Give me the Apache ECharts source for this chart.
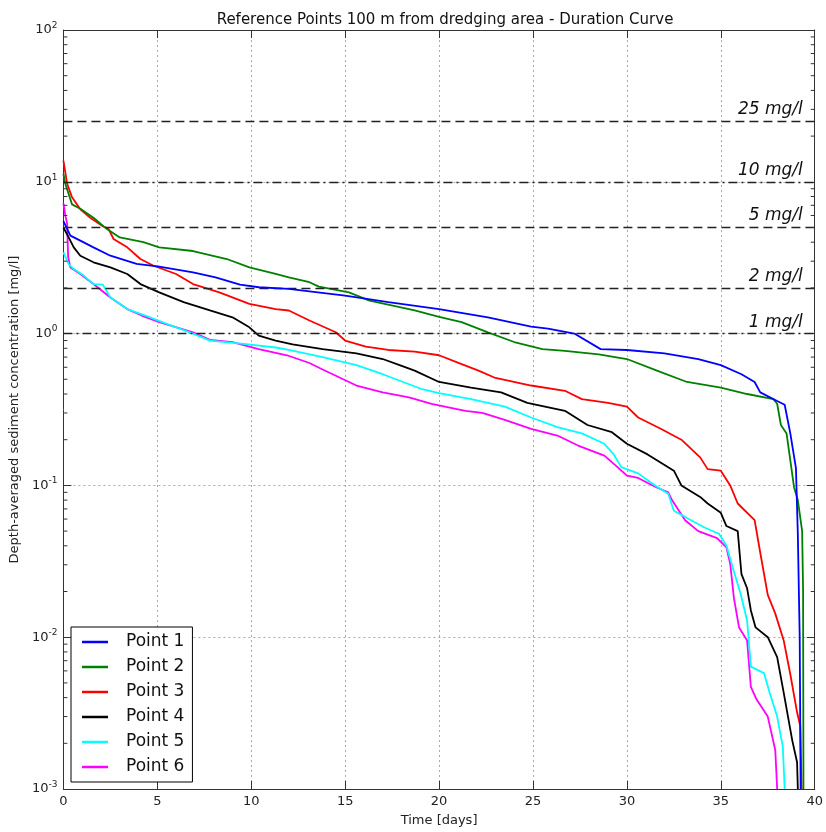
<!DOCTYPE html>
<html>
<head>
<meta charset="utf-8">
<script src="https://cdn.jsdelivr.net/npm/echarts@6/dist/echarts.min.js"></script>
<style>html,body{margin:0;padding:0;background:#fff}#c{width:826px;height:832px}</style>
</head>
<body>
<div id="c"></div>
<script>
// ---- data (time in days, concentration in mg/l) ----
const seriesNames = ['Point 1', 'Point 2', 'Point 3', 'Point 4', 'Point 5', 'Point 6'];
const p1 = [[0,5.5],[0.37,4.42],[0.9,4.1],[1.6,3.7],[2.5,3.26],[3.9,2.88],[5.1,2.76],[6.9,2.53],[8.1,2.35],[9.4,2.1],[10.4,2.02],[12,1.97],[13.1,1.9],[15,1.78],[17.3,1.61],[20,1.45],[22.6,1.28],[24.9,1.11],[25.8,1.08],[27.2,1.0],[28.6,0.79],[30,0.78],[32,0.74],[33.8,0.68],[35,0.62],[36.1,0.54],[36.8,0.48],[37.1,0.41],[38,0.36],[38.4,0.34],[38.7,0.22],[39.0,0.13],[39.1,0.048],[39.2,0.01],[39.25,0.001]];
const p2 = [[0,11.3],[0.1,9.7],[0.46,7.1],[0.9,6.65],[1.6,5.8],[2.3,4.9],[3.0,4.3],[4.26,4.0],[5.1,3.7],[6.9,3.5],[8.7,3.1],[9.9,2.73],[11.3,2.47],[12,2.35],[13.1,2.18],[13.6,2.04],[15.2,1.87],[16.3,1.65],[18.7,1.42],[20,1.29],[21.2,1.19],[22.6,1.02],[24,0.88],[25.5,0.79],[26.7,0.77],[28.5,0.73],[30,0.68],[31.6,0.57],[33.2,0.48],[35,0.44],[36.4,0.4],[37.8,0.37],[38,0.345],[38.2,0.25],[38.5,0.22],[38.9,0.097],[39.1,0.08],[39.33,0.05],[39.38,0.02],[39.4,0.001]];
const p3 = [[0,13.8],[0.2,9.7],[0.46,7.9],[0.9,6.6],[1.43,5.8],[2.1,5.1],[2.4,4.9],[2.67,4.2],[3.4,3.7],[4.1,3.1],[4.8,2.8],[6.0,2.47],[6.9,2.12],[8.3,1.87],[9.9,1.57],[11.3,1.45],[12,1.42],[13.1,1.22],[14.5,1.02],[15,0.9],[16.1,0.82],[17.3,0.78],[18.7,0.76],[20,0.72],[21.2,0.63],[22.1,0.57],[23,0.51],[24.9,0.455],[26.7,0.42],[27.6,0.37],[29,0.35],[30,0.33],[30.6,0.28],[31.8,0.236],[32.9,0.2],[33.9,0.153],[34.3,0.128],[35,0.125],[35.5,0.1],[35.9,0.076],[36.8,0.059],[37.1,0.036],[37.5,0.019],[37.9,0.0143],[38.35,0.0095],[38.7,0.0057],[39.06,0.0032],[39.23,0.0026],[39.3,0.001]];
const p4 = [[0,5.0],[0.28,4.3],[0.55,3.7],[0.9,3.26],[1.6,2.95],[2.5,2.73],[3.4,2.47],[4.1,2.12],[5.1,1.87],[6.4,1.61],[7.8,1.42],[9.0,1.28],[9.9,1.1],[10.4,0.97],[11.3,0.9],[12.2,0.85],[13.8,0.79],[15.6,0.74],[17,0.68],[17.9,0.62],[18.7,0.57],[20,0.48],[21.7,0.44],[23.3,0.41],[24.7,0.35],[26.7,0.31],[27.9,0.25],[29.2,0.224],[30,0.188],[31.1,0.16],[32.5,0.125],[32.9,0.1],[33.9,0.084],[34.3,0.076],[35,0.066],[35.3,0.054],[35.9,0.05],[36.1,0.026],[36.4,0.021],[36.6,0.015],[36.85,0.0116],[37.5,0.01],[38,0.0074],[38.35,0.0043],[38.8,0.0021],[39.06,0.0015],[39.1,0.001]];
const p5 = [[0,3.43],[0.28,2.87],[0.55,2.66],[1.08,2.41],[1.6,2.12],[2.1,2.1],[2.5,1.73],[3.4,1.45],[4.4,1.31],[5.5,1.16],[6.9,1.0],[7.8,0.9],[9.6,0.855],[11.3,0.81],[12,0.78],[13.8,0.7],[15.6,0.62],[17,0.54],[19.1,0.43],[20,0.405],[21.7,0.37],[23.5,0.33],[24.9,0.28],[26.3,0.242],[27.6,0.22],[28.8,0.188],[29.3,0.16],[29.7,0.132],[30.6,0.12],[31.5,0.1],[32.2,0.088],[32.5,0.068],[33.1,0.062],[34.1,0.053],[34.9,0.048],[35.3,0.04],[35.7,0.027],[36.05,0.0194],[36.4,0.0129],[36.6,0.0064],[37.3,0.0058],[37.6,0.0043],[38,0.003],[38.3,0.0019],[38.4,0.001]];
const p6 = [[0,7.2],[0.1,6.0],[0.2,5.3],[0.25,3.2],[0.37,2.73],[0.9,2.47],[1.6,2.12],[2.5,1.73],[3.4,1.45],[4.2,1.31],[5.1,1.19],[6.9,1.02],[7.8,0.91],[9.0,0.88],[10.4,0.79],[11.9,0.72],[13.1,0.64],[13.8,0.58],[15.6,0.455],[17,0.41],[18.4,0.38],[19.6,0.345],[21.4,0.31],[22.3,0.3],[23.5,0.27],[24.9,0.236],[26.3,0.213],[27.4,0.183],[28.8,0.157],[29.5,0.132],[30,0.116],[30.6,0.112],[31.5,0.098],[32.2,0.09],[32.4,0.08],[33.1,0.059],[33.8,0.05],[34.8,0.045],[35.3,0.039],[35.5,0.0305],[35.7,0.018],[35.97,0.0116],[36.4,0.0095],[36.6,0.0047],[36.9,0.0039],[37.5,0.003],[37.9,0.0018],[38.0,0.001]];
const thresholds = [25, 10, 5, 2, 1];
const thresholdLabels = ['25 mg/l', '10 mg/l', '5 mg/l', '2 mg/l', '1 mg/l'];
const thresholdDash = ['dashed', 'dashdot', 'dashed', 'dashed', 'dashdot'];
const xTicks = [0, 5, 10, 15, 20, 25, 30, 35, 40];
const decades = [0.001, 0.01, 0.1, 1, 10, 100];
const minorMultipliers = [2, 3, 4, 5, 6, 7, 8, 9];

const colors = ['#0000ff', '#008000', '#ff0000', '#000000', '#00ffff', '#ff00ff'];
const allData = [p1, p2, p3, p4, p5, p6];
const FONT = 'DejaVu Sans';

const minorVals = [];
decades.slice(0, -1).forEach(d => minorMultipliers.forEach(m => minorVals.push([0, d * m])));

const chart = echarts.init(document.getElementById('c'), null, {renderer: 'canvas'});

const dashPat = {dashed: [9, 5], dashdot: [9, 4, 2, 4]};

const lineSeries = allData.map((d, i) => ({
  name: seriesNames[i], type: 'line', data: d, symbol: 'none', showSymbol: false,
  lineStyle: {color: colors[i], width: 1.8}, itemStyle: {color: colors[i]},
  animation: false, silent: true, z: 5 - i * 0.01
}));

const thresholdSeries = {
  name: 'thr', type: 'line', data: [], silent: true, animation: false,
  markLine: {
    silent: true, symbol: 'none', animation: false,
    data: thresholds.map((v, i) => ({
      yAxis: v,
      lineStyle: {type: dashPat[thresholdDash[i]], color: '#222', width: 1.4},
      label: {show: true, formatter: thresholdLabels[i], position: 'insideEndTop',
        fontSize: 17, fontStyle: 'italic', fontFamily: FONT, color: '#111', distance: [12, 3]}
    }))
  }
};

const minorTickSeries = {
  name: 'minor', type: 'custom', data: minorVals, silent: true, animation: false, z: 10,
  renderItem: function (params, api) {
    const v = api.value(1);
    const p = api.coord([xTicks[0], v]);
    const q = api.coord([xTicks[xTicks.length - 1], v]);
    return {type: 'group', children: [
      {type: 'line', shape: {x1: p[0], y1: p[1], x2: p[0] + 4, y2: p[1]}, style: {stroke: '#333', lineWidth: 1}},
      {type: 'line', shape: {x1: q[0] - 4, y1: q[1], x2: q[0], y2: q[1]}, style: {stroke: '#333', lineWidth: 1}}
    ]};
  }
};

const gridLine = {show: true, lineStyle: {color: '#aaa', type: [2, 3], width: 1}};

const option = {
  backgroundColor: '#fff',
  animation: false,
  title: {text: 'Reference Points 100 m from dredging area - Duration Curve', left: 440, textAlign: 'center', top: 8,
    textStyle: {fontFamily: FONT, fontSize: 15, fontWeight: 'normal', color: '#111'}},
  grid: {left: 63, right: 8, top: 30, bottom: 43, show: false},
  legend: {
    data: seriesNames, orient: 'vertical', left: 71, top: 627,
    icon: 'rect', itemWidth: 26, itemHeight: 2.5, itemGap: 5,
    padding: [5, 8, 5, 11], borderColor: '#000', borderWidth: 1, backgroundColor: '#fff',
    textStyle: {fontFamily: FONT, fontSize: 17, color: '#111', lineHeight: 20, padding: [0, 0, 0, 13]}
  },
  xAxis: [{
    type: 'value', min: 0, max: 40, interval: 5, position: 'bottom',
    name: 'Time [days]', nameLocation: 'middle', nameGap: 25,
    nameTextStyle: {fontFamily: FONT, fontSize: 13, color: '#222'},
    axisLine: {show: true, onZero: false, lineStyle: {color: '#333', width: 1}},
    axisTick: {show: true, inside: true, length: 8, lineStyle: {color: '#333'}},
    axisLabel: {fontFamily: FONT, fontSize: 13, color: '#222', margin: 6},
    splitLine: gridLine
  }, {
    type: 'value', min: 0, max: 40, interval: 5, position: 'top',
    axisLine: {show: true, onZero: false, lineStyle: {color: '#333', width: 1}},
    axisTick: {show: true, inside: true, length: 8, lineStyle: {color: '#333'}},
    axisLabel: {show: false}, splitLine: {show: false}
  }],
  yAxis: [{
    type: 'log', logBase: 10, min: 0.001, max: 100, position: 'left',
    name: 'Depth-averaged sediment concentration [mg/l]', nameLocation: 'middle', nameGap: 38,
    nameTextStyle: {fontFamily: FONT, fontSize: 13, color: '#222'},
    axisLine: {show: true, onZero: false, lineStyle: {color: '#333', width: 1}},
    axisTick: {show: true, inside: true, length: 8, lineStyle: {color: '#333'}},
    axisLabel: {
      margin: 6,
      formatter: function (v) { const e = Math.round(Math.log10(v)); return '{b|10}{s|' + e + '}'; },
      rich: {
        b: {fontFamily: FONT, fontSize: 13, color: '#222', lineHeight: 18},
        s: {fontFamily: FONT, fontSize: 9, color: '#222', verticalAlign: 'top', lineHeight: 10}
      }
    },
    splitLine: gridLine
  }, {
    type: 'log', logBase: 10, min: 0.001, max: 100, position: 'right',
    axisLine: {show: true, onZero: false, lineStyle: {color: '#333', width: 1}},
    axisTick: {show: true, inside: true, length: 8, lineStyle: {color: '#333'}},
    axisLabel: {show: false}, splitLine: {show: false}
  }],
  series: [thresholdSeries, minorTickSeries].concat(lineSeries)
};
chart.setOption(option);
</script>
</body>
</html>
